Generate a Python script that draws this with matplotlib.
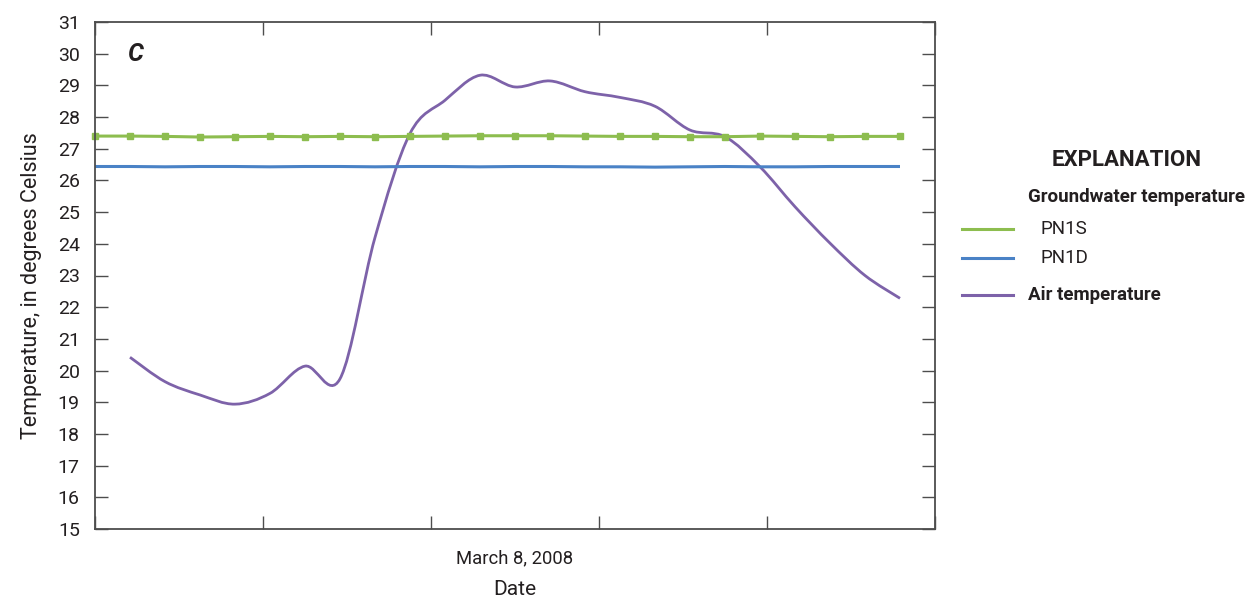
import numpy as np
import matplotlib
matplotlib.use("Agg")
import matplotlib.pyplot as plt
from matplotlib.path import Path
from matplotlib.patches import PathPatch
from matplotlib.lines import Line2D

plt.rcParams['font.family'] = ['Roboto', 'DejaVu Sans']

# hourly readings, March 8, 2008
hours = np.arange(0, 24)
pn1s = [27.40, 27.40, 27.39, 27.37, 27.38, 27.39, 27.38, 27.39, 27.38, 27.39,
        27.40, 27.41, 27.41, 27.41, 27.40, 27.39, 27.39, 27.38, 27.38, 27.40,
        27.39, 27.38, 27.39, 27.39]
pn1d = [26.44, 26.44, 26.43, 26.44, 26.44, 26.43, 26.44, 26.44, 26.43, 26.44,
        26.44, 26.43, 26.44, 26.44, 26.43, 26.43, 26.42, 26.43, 26.44, 26.43,
        26.43, 26.44, 26.44, 26.44]
air_hours = np.arange(1, 24)
air = [20.42, 19.65, 19.23, 18.94, 19.28, 20.14, 19.74, 24.2, 27.48, 28.53,
       29.32, 28.95, 29.14, 28.80, 28.62, 28.34, 27.59, 27.38, 26.43, 25.17,
       24.02, 23.00, 22.28]

green = '#8dbd4f'
blue = '#4a82c6'
purple = '#7d62a9'
spine_c = '#4d4d4d'
txt_c = '#231f20'


def smooth_path(x, y, t=1 / 6):
    # Excel-style smoothed line: cubic bezier between the points
    x = np.asarray(x, float)
    y = np.asarray(y, float)
    verts = [(x[0], y[0])]
    codes = [Path.MOVETO]
    n = len(x)
    for i in range(n - 1):
        p0 = i - 1 if i > 0 else i
        p3 = i + 2 if i + 2 < n else i + 1
        c1 = (x[i] + (x[i + 1] - x[p0]) * t, y[i] + (y[i + 1] - y[p0]) * t)
        c2 = (x[i + 1] - (x[p3] - x[i]) * t, y[i + 1] - (y[p3] - y[i]) * t)
        verts += [c1, c2, (x[i + 1], y[i + 1])]
        codes += [Path.CURVE4] * 3
    return Path(verts, codes)


fig = plt.figure(figsize=(12.52, 5.98), dpi=100)
ax = fig.add_axes([95 / 1252, 1 - 529 / 598, 840 / 1252, 507 / 598])

ax.plot(hours, pn1d, color=blue, lw=2.2, solid_capstyle='butt')
ax.plot(hours, pn1s, color=green, lw=2.2, marker='s', ms=4.5, mec=green,
        solid_capstyle='butt', clip_on=False)
ax.add_patch(PathPatch(smooth_path(air_hours, air), fill=False,
                       edgecolor=purple, lw=2.0))

ax.set_xlim(0, 24)
ax.set_ylim(15, 31)
ax.set_yticks(np.arange(15, 32, 1))
ax.set_xticks(np.linspace(0, 24, 6))
ax.set_xticklabels([])
ax.set_xticks([12], ['March 8, 2008'], minor=True)
ax.tick_params(axis='x', which='minor', length=0, pad=15, labelsize=13.3,
               labelcolor=txt_c)
ax.tick_params(axis='both', which='major', direction='in', length=9.5,
               width=1.0, color=spine_c, top=True, right=True, labelsize=14,
               labelcolor=txt_c)
ax.tick_params(axis='y', pad=11)
for s in ax.spines.values():
    s.set_color(spine_c)
    s.set_linewidth(1.3)

ax.set_ylabel('Temperature, in degrees Celsius', fontsize=15.5, color=txt_c)
ax.yaxis.set_label_coords(-0.063, 0.48)
ax.set_xlabel('Date', fontsize=15, color=txt_c, labelpad=9)
ax.text(0.048, 0.937, 'C', transform=ax.transAxes, fontsize=18,
        fontweight='bold', fontstyle='italic', color=txt_c,
        ha='center', va='center')

# explanation block
W, H = 1252, 598


def fx(px):
    return px / W


def fy(py):
    return 1 - py / H


fig.text(fx(1127), fy(160), 'EXPLANATION', fontsize=16, fontweight='bold',
         ha='center', va='center', color=txt_c)
fig.text(fx(1028), fy(197), 'Groundwater temperature', fontsize=13.5,
         fontweight='bold', ha='left', va='center', color=txt_c)
items = [(229, green, 'PN1S', 'normal', 1041),
         (258, blue, 'PN1D', 'normal', 1041),
         (295, purple, 'Air temperature', 'bold', 1028)]
for py, c, lab, wt, tx in items:
    fig.add_artist(Line2D([fx(962), fx(1013)], [fy(py), fy(py)], color=c,
                          lw=2.2, transform=fig.transFigure))
    fig.text(fx(tx), fy(py), lab, fontsize=13.5, fontweight=wt, ha='left',
             va='center', color=txt_c)

fig.savefig('out.png', dpi=100)
